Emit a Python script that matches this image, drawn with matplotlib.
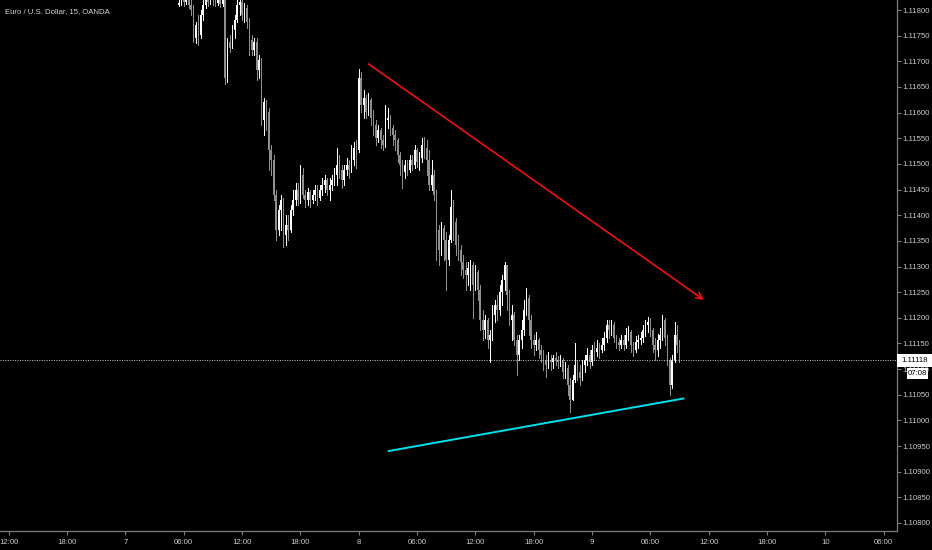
import numpy as np
import pandas as pd
import matplotlib
matplotlib.use("Agg")
import matplotlib.pyplot as plt
from matplotlib.patches import Rectangle

plt.rcParams['font.family'] = ['Liberation Sans', 'DejaVu Sans']

# ---------------- data ----------------
title = "Euro / U.S. Dollar, 15, OANDA"
start_time = pd.Timestamp("2019-08-07 05:30")   # first 15-minute bar
bar_minutes = 15
first_open = 1.11810

closes = [
    1.11814, 1.11820, 1.11816, 1.11825, 1.11810, 1.11800, 1.11745, 1.11771, 1.11751, 1.11790,
    1.11810, 1.11823, 1.11816, 1.11827, 1.11820, 1.11814, 1.11820, 1.11812, 1.11823, 1.11667,
    1.11738, 1.11726, 1.11761, 1.11780, 1.11810, 1.11816, 1.11790, 1.11804, 1.11777, 1.11742,
    1.11722, 1.11738, 1.11683, 1.11703, 1.11586, 1.11621, 1.11601, 1.11527, 1.11508, 1.11439,
    1.11371, 1.11410, 1.11430, 1.11361, 1.11381, 1.11371, 1.11410, 1.11430, 1.11449, 1.11430,
    1.11478, 1.11439, 1.11430, 1.11445, 1.11430, 1.11439, 1.11449, 1.11433, 1.11449, 1.11459,
    1.11469, 1.11449, 1.11459, 1.11469, 1.11478, 1.11498, 1.11488, 1.11469, 1.11488, 1.11498,
    1.11488, 1.11508, 1.11531, 1.11527, 1.11667, 1.11615, 1.11628, 1.11601, 1.11625, 1.11589,
    1.11576, 1.11550, 1.11566, 1.11547, 1.11537, 1.11586, 1.11589, 1.11570, 1.11556, 1.11547,
    1.11517, 1.11498, 1.11484, 1.11498, 1.11488, 1.11508, 1.11498, 1.11527, 1.11504, 1.11511,
    1.11537, 1.11531, 1.11508, 1.11459, 1.11478, 1.11439, 1.11371, 1.11332, 1.11375, 1.11352,
    1.11313, 1.11352, 1.11416, 1.11387, 1.11342, 1.11332, 1.11309, 1.11293, 1.11283, 1.11297,
    1.11303, 1.11264, 1.11289, 1.11254, 1.11196, 1.11176, 1.11196, 1.11157, 1.11166, 1.11205,
    1.11225, 1.11215, 1.11250, 1.11274, 1.11303, 1.11244, 1.11196, 1.11205, 1.11157, 1.11127,
    1.11157, 1.11176, 1.11215, 1.11239, 1.11196, 1.11157, 1.11147, 1.11157, 1.11137, 1.11127,
    1.11118, 1.11108, 1.11118, 1.11114, 1.11121, 1.11118, 1.11114, 1.11118, 1.11094, 1.11102,
    1.11069, 1.11040, 1.11079, 1.11108, 1.11094, 1.11082, 1.11108, 1.11118, 1.11127, 1.11114,
    1.11137, 1.11133, 1.11141, 1.11137, 1.11147, 1.11160, 1.11186, 1.11176, 1.11186, 1.11160,
    1.11153, 1.11147, 1.11157, 1.11147, 1.11166, 1.11172, 1.11147, 1.11137, 1.11153, 1.11157,
    1.11160, 1.11176, 1.11186, 1.11192, 1.11176, 1.11147, 1.11137, 1.11157, 1.11166, 1.11196,
    1.11160, 1.11118, 1.11069, 1.11118, 1.11166, 1.11147, 1.11118,
]

highs = [
    1.11839, 1.11835, 1.11829, 1.11839, 1.11831, 1.11820, 1.11810, 1.11777, 1.11790, 1.11800,
    1.11820, 1.11835, 1.11835, 1.11839, 1.11831, 1.11825, 1.11829, 1.11825, 1.11835, 1.11830,
    1.11745, 1.11751, 1.11771, 1.11790, 1.11820, 1.11827, 1.11820, 1.11814, 1.11810, 1.11784,
    1.11751, 1.11745, 1.11745, 1.11712, 1.11706, 1.11628, 1.11625, 1.11609, 1.11537, 1.11517,
    1.11449, 1.11420, 1.11439, 1.11433, 1.11400, 1.11400, 1.11420, 1.11449, 1.11463, 1.11463,
    1.11498, 1.11492, 1.11449, 1.11453, 1.11449, 1.11449, 1.11459, 1.11459, 1.11459, 1.11472,
    1.11478, 1.11472, 1.11472, 1.11478, 1.11492, 1.11531, 1.11517, 1.11498, 1.11498, 1.11511,
    1.11508, 1.11537, 1.11543, 1.11547, 1.11685, 1.11679, 1.11644, 1.11634, 1.11638, 1.11628,
    1.11605, 1.11586, 1.11576, 1.11570, 1.11556, 1.11615, 1.11609, 1.11595, 1.11576, 1.11566,
    1.11550, 1.11523, 1.11508, 1.11508, 1.11508, 1.11517, 1.11517, 1.11537, 1.11531, 1.11523,
    1.11550, 1.11552, 1.11547, 1.11527, 1.11508, 1.11488, 1.11449, 1.11381, 1.11387, 1.11381,
    1.11367, 1.11361, 1.11449, 1.11430, 1.11394, 1.11361, 1.11342, 1.11322, 1.11309, 1.11309,
    1.11313, 1.11309, 1.11303, 1.11293, 1.11264, 1.11215, 1.11205, 1.11199, 1.11176, 1.11225,
    1.11235, 1.11244, 1.11264, 1.11283, 1.11309, 1.11303, 1.11254, 1.11225, 1.11211, 1.11166,
    1.11166, 1.11196, 1.11235, 1.11258, 1.11245, 1.11205, 1.11166, 1.11172, 1.11160, 1.11147,
    1.11137, 1.11127, 1.11133, 1.11127, 1.11127, 1.11133, 1.11125, 1.11127, 1.11121, 1.11114,
    1.11108, 1.11082, 1.11088, 1.11151, 1.11118, 1.11108, 1.11118, 1.11127, 1.11141, 1.11137,
    1.11147, 1.11153, 1.11157, 1.11151, 1.11160, 1.11172, 1.11196, 1.11196, 1.11196, 1.11192,
    1.11166, 1.11160, 1.11166, 1.11166, 1.11180, 1.11184, 1.11176, 1.11153, 1.11164, 1.11166,
    1.11172, 1.11186, 1.11196, 1.11201, 1.11199, 1.11180, 1.11160, 1.11168, 1.11180, 1.11205,
    1.11199, 1.11166, 1.11121, 1.11127, 1.11192, 1.11186, 1.11157,
]

lows = [
    1.11808, 1.11810, 1.11808, 1.11812, 1.11804, 1.11790, 1.11738, 1.11736, 1.11732, 1.11745,
    1.11780, 1.11804, 1.11808, 1.11812, 1.11810, 1.11808, 1.11810, 1.11806, 1.11808, 1.11656,
    1.11660, 1.11718, 1.11726, 1.11745, 1.11777, 1.11790, 1.11780, 1.11777, 1.11765, 1.11712,
    1.11712, 1.11712, 1.11664, 1.11667, 1.11576, 1.11556, 1.11566, 1.11488, 1.11478, 1.11430,
    1.11352, 1.11361, 1.11371, 1.11338, 1.11342, 1.11352, 1.11367, 1.11400, 1.11420, 1.11420,
    1.11424, 1.11433, 1.11416, 1.11420, 1.11416, 1.11424, 1.11430, 1.11420, 1.11430, 1.11439,
    1.11445, 1.11439, 1.11430, 1.11449, 1.11459, 1.11459, 1.11472, 1.11453, 1.11459, 1.11478,
    1.11472, 1.11484, 1.11498, 1.11492, 1.11523, 1.11601, 1.11589, 1.11589, 1.11595, 1.11576,
    1.11556, 1.11537, 1.11543, 1.11531, 1.11527, 1.11533, 1.11570, 1.11556, 1.11537, 1.11527,
    1.11504, 1.11478, 1.11453, 1.11472, 1.11478, 1.11484, 1.11488, 1.11492, 1.11494, 1.11488,
    1.11504, 1.11511, 1.11478, 1.11449, 1.11449, 1.11430, 1.11313, 1.11303, 1.11322, 1.11313,
    1.11254, 1.11303, 1.11348, 1.11352, 1.11322, 1.11313, 1.11283, 1.11277, 1.11254, 1.11264,
    1.11254, 1.11199, 1.11254, 1.11235, 1.11176, 1.11157, 1.11160, 1.11141, 1.11114, 1.11157,
    1.11192, 1.11196, 1.11205, 1.11225, 1.11254, 1.11215, 1.11186, 1.11157, 1.11147, 1.11088,
    1.11118, 1.11141, 1.11166, 1.11205, 1.11166, 1.11141, 1.11127, 1.11137, 1.11121, 1.11114,
    1.11098, 1.11084, 1.11102, 1.11098, 1.11102, 1.11108, 1.11102, 1.11106, 1.11082, 1.11082,
    1.11049, 1.11016, 1.11040, 1.11075, 1.11079, 1.11069, 1.11079, 1.11094, 1.11108, 1.11102,
    1.11108, 1.11118, 1.11125, 1.11121, 1.11133, 1.11137, 1.11153, 1.11160, 1.11166, 1.11153,
    1.11141, 1.11137, 1.11141, 1.11137, 1.11141, 1.11157, 1.11133, 1.11125, 1.11133, 1.11141,
    1.11149, 1.11153, 1.11164, 1.11172, 1.11164, 1.11133, 1.11118, 1.11125, 1.11141, 1.11157,
    1.11147, 1.11108, 1.11049, 1.11063, 1.11114, 1.11133, 1.11114,
]

# trend lines: (time, price)
red_line = [("2019-08-08 01:00", 1.11695), ("2019-08-09 11:30", 1.11235)]
cyan_line = [("2019-08-08 03:00", 1.10940), ("2019-08-09 09:30", 1.11043)]

y_ticks = [1.108 + 0.0005 * k for k in range(21)]
x_tick_times = pd.date_range("2019-08-06 12:00", "2019-08-10 06:00", freq="6h")
countdown = "07:08"

# ---------------- derived ----------------
closes = np.array(closes)
highs = np.array(highs)
lows = np.array(lows)
opens = np.concatenate([[first_open], closes[:-1]])
n = len(closes)
xs = np.arange(n)
step = pd.Timedelta(minutes=bar_minutes)


def tpos(t):
    return (pd.Timestamp(t) - start_time) / step


up = closes >= opens
up_col = "#ffffff"
dn_col = "#8f8f8f"
cols = np.where(up, up_col, dn_col)

FS = 5.6
W, H = 932, 550
fig = plt.figure(figsize=(W / 100, H / 100), dpi=100, facecolor="black")
ax = fig.add_axes([0, 19 / H, 897 / W, 531 / H])
ax.set_facecolor("black")

ax.vlines(xs, lows, highs, colors=cols, linewidth=0.72, zorder=2, antialiased=False)
body_bottom = np.minimum(opens, closes)
body_h = np.maximum(np.abs(closes - opens), 0.00002)
ax.bar(xs, body_h, bottom=body_bottom, width=0.62, color=cols, linewidth=0, zorder=3,
       antialiased=False)

# trend lines
(rt0, rp0), (rt1, rp1) = red_line
ax.annotate("", xy=(tpos(rt1), rp1), xytext=(tpos(rt0), rp0),
            arrowprops=dict(arrowstyle="->", color="#f21010", lw=1.2,
                            mutation_scale=11, shrinkA=0, shrinkB=0), zorder=5)
(ct0, cp0), (ct1, cp1) = cyan_line
ax.plot([tpos(ct0), tpos(ct1)], [cp0, cp1], color="#00e1f0", lw=1.4,
        solid_capstyle="butt", zorder=5)

# last price dotted line
last = closes[-1]
ax.axhline(last, color="#cfcfcf", lw=0.7, ls=(0, (1, 1.5)), zorder=4)

# axes limits
ax.set_xlim(-73.6, 295.5)
ax.set_ylim(1.107844, 1.118195)

for s in ["left", "top"]:
    ax.spines[s].set_visible(False)
for s in ["right", "bottom"]:
    ax.spines[s].set_color("#7a7d86")
    ax.spines[s].set_linewidth(0.9)

ax.yaxis.tick_right()
ax.set_yticks(y_ticks)
ax.set_yticklabels([f"{v:.5f}" for v in y_ticks])
ax.tick_params(axis="y", colors="#7a7d86", labelcolor="#c8cad0", labelsize=FS,
               length=3, width=0.8, pad=1.2)

xt_pos = [tpos(t) for t in x_tick_times]
xt_lab = [str(t.day) if t.hour == 0 else t.strftime("%H:%M") for t in x_tick_times]
ax.set_xticks(xt_pos)
ax.set_xticklabels(xt_lab)
ax.tick_params(axis="x", colors="#7a7d86", labelcolor="#c8cad0", labelsize=FS,
               length=3, width=0.8, pad=3)

# title
fig.text(5 / W, 1 - 12 / H, title, ha="left", va="center", color="#d1d4dc", fontsize=FS)

# price label and countdown
fig.patches.append(Rectangle((897 / W, 1 - 367 / H), 35 / W, 13 / H, transform=fig.transFigure,
                             facecolor="white", edgecolor="none", zorder=6))
fig.text(914.5 / W, 1 - 360.5 / H, f"{last:.5f}", ha="center", va="center",
         color="black", fontsize=FS, zorder=7)
fig.patches.append(Rectangle((907 / W, 1 - 379 / H), 21 / W, 11 / H, transform=fig.transFigure,
                             facecolor="white", edgecolor="none", zorder=6))
fig.text(917.5 / W, 1 - 373.5 / H, countdown, ha="center", va="center",
         color="black", fontsize=FS, zorder=7)

fig.savefig("out.png", dpi=100, facecolor="black")
